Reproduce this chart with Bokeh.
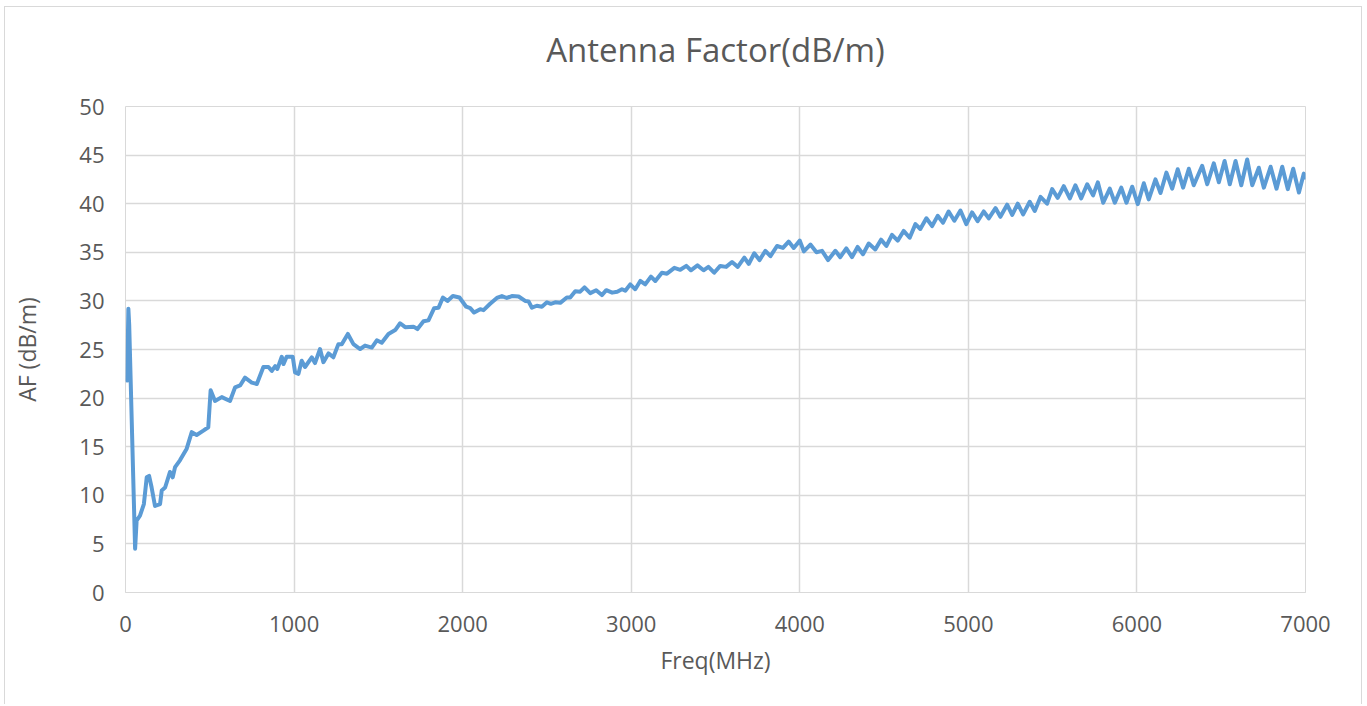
from bokeh.plotting import figure
from bokeh.models import Range1d, FixedTicker, Title
from bokeh.embed import file_html
from bokeh.resources import INLINE

freq_mhz = [10, 17, 22, 57, 66, 86, 109, 126, 140, 155, 175, 205, 215, 235, 264, 280, 294, 323, 363, 393,
            422, 462, 491, 505, 531, 571, 620, 650, 680, 709, 749, 779, 818, 848, 868, 888, 901, 927, 937, 956,
            992, 1006, 1026, 1045, 1065, 1105, 1124, 1154, 1174, 1204, 1233, 1263, 1283, 1319, 1352, 1392,
            1421, 1461, 1491, 1520, 1560, 1600, 1629, 1659, 1708, 1732, 1768, 1797, 1831, 1857, 1883, 1910,
            1942, 1981, 2021, 2045, 2068, 2104, 2124, 2163, 2203, 2233, 2262, 2292, 2332, 2371, 2391, 2411,
            2440, 2470, 2500, 2523, 2549, 2579, 2618, 2638, 2668, 2697, 2723, 2757, 2792, 2826,
            2852, 2887, 2917, 2945, 2965, 2994, 3024, 3054, 3083, 3117, 3143, 3182, 3212, 3256, 3291, 3327,
            3354, 3393, 3429, 3458, 3492, 3528, 3563, 3598, 3632, 3671, 3697, 3730, 3761, 3796, 3826, 3865,
            3900, 3934, 3964, 4000, 4024, 4063, 4099, 4132, 4168, 4211, 4240,
            4276, 4310, 4343, 4375, 4409, 4448, 4482, 4514, 4547, 4581, 4616, 4652, 4686, 4715, 4751, 4785,
            4818, 4850, 4883, 4917, 4953, 4988, 5022, 5055, 5091, 5121, 5161, 5190, 5230, 5260, 5293, 5325,
            5364, 5394, 5428, 5467, 5497, 5530, 5566, 5602, 5635, 5669,
            5705, 5740, 5768, 5800, 5839, 5869, 5907, 5938, 5972, 6005, 6041, 6070, 6110, 6140, 6175, 6209,
            6242, 6274, 6308, 6337, 6387, 6417, 6456, 6486, 6520, 6551, 6585, 6619, 6654, 6684, 6723, 6753,
            6793, 6828, 6862, 6895, 6927, 6961, 6990, 7000]

af_db = [21.8, 29.2, 27.5, 4.5, 7.4, 7.9, 9.1, 11.85, 12.0, 10.8, 8.9, 9.1, 10.5, 10.8, 12.4, 11.85, 12.9, 13.6, 14.8, 16.5,
         16.2, 16.65, 17.0, 20.8, 19.7, 20.1, 19.7, 21.1, 21.3, 22.1, 21.6, 21.45, 23.2, 23.2, 22.8, 23.3, 23.0, 24.25, 23.5, 24.25,
         24.25, 22.65, 22.5, 23.85, 23.2, 24.2, 23.6, 25.05, 23.7, 24.6, 24.2, 25.55, 25.55, 26.6, 25.55, 25.05,
         25.4, 25.2, 25.95, 25.7, 26.6, 27.0, 27.7, 27.3, 27.35, 27.1, 27.9, 28.0, 29.25, 29.3, 30.35, 30.0,
         30.5, 30.35, 29.4, 29.25, 28.8, 29.15, 29.05, 29.7, 30.3, 30.5, 30.3, 30.5, 30.45, 30.0, 29.95, 29.3,
         29.5, 29.4, 29.85, 29.7, 29.85, 29.8, 30.35, 30.35, 31.0, 30.95, 31.4, 30.8, 31.1, 30.6,
         31.1, 30.85, 30.95, 31.2, 31.05, 31.7, 31.2, 32.05, 31.7, 32.5, 32.05, 32.9, 32.8, 33.4, 33.2, 33.6,
         33.15, 33.65, 33.15, 33.5, 32.9, 33.6, 33.5, 34.0, 33.5, 34.45, 33.8, 34.9, 34.2, 35.15, 34.6, 35.65,
         35.45, 36.1, 35.45, 36.2, 35.1, 35.8, 35.0, 35.15, 34.2, 35.15, 34.5,
         35.4, 34.5, 35.55, 34.8, 35.9, 35.3, 36.3, 35.65, 36.8, 36.2, 37.2, 36.5, 37.9, 37.4, 38.5, 37.7,
         38.75, 38.05, 39.2, 38.25, 39.3, 37.9, 39.1, 38.2, 39.2, 38.5, 39.55, 38.65, 39.9, 38.85, 40.0, 38.9,
         40.2, 39.25, 40.7, 40.0, 41.5, 40.6, 41.8, 40.55, 41.9, 40.55,
         42.0, 40.85, 42.2, 40.1, 41.55, 40.1, 41.65, 40.1, 41.75, 39.95, 42.1, 40.45, 42.5, 41.1, 43.2, 41.55,
         43.55, 41.65, 43.6, 41.9, 43.9, 42.0, 44.15, 42.2, 44.4, 42.0, 44.4, 41.9, 44.55, 41.9, 43.7, 41.65,
         43.8, 41.55, 43.8, 41.5, 43.6, 41.15, 43.1, 42.7]

x_ticks = [0, 1000, 2000, 3000, 4000, 5000, 6000, 7000]
y_ticks = [0, 5, 10, 15, 20, 25, 30, 35, 40, 45, 50]

TEXT = "#595959"
GRID = "#D9D9D9"
FONT = "Open Sans"

p = figure(width=1358, height=698, output_backend="svg", toolbar_location=None,
           x_range=Range1d(0, 7000), y_range=Range1d(0, 50),
           title="Antenna Factor(dB/m)",
           min_border_left=120, min_border_right=58, min_border_top=99, min_border_bottom=113)

p.line(freq_mhz, af_db, line_color="#5B9BD5", line_width=4, line_join="round", line_cap="round")

# spacer between the frame and the title
p.add_layout(Title(text=" ", text_font_size="2px", standoff=31), "above")

p.title.align = "center"
p.title.vertical_align = "bottom"
p.title.text_font = FONT
p.title.text_font_size = "33px"
p.title.text_font_style = "normal"
p.title.text_color = TEXT
p.title.standoff = 0

p.outline_line_color = GRID
p.background_fill_color = "white"
p.border_fill_color = "white"

p.xaxis.ticker = FixedTicker(ticks=x_ticks)
p.yaxis.ticker = FixedTicker(ticks=y_ticks)
for ax in (p.xaxis, p.yaxis):
    ax.major_tick_line_color = None
    ax.minor_tick_line_color = None
    ax.major_tick_in = 0
    ax.major_tick_out = 0
    ax.minor_tick_in = 0
    ax.minor_tick_out = 0
    ax.major_label_text_font = FONT
    ax.major_label_text_font_size = "22px"
    ax.major_label_text_color = TEXT
    ax.axis_label_text_font = FONT
    ax.axis_label_text_font_size = "23px"
    ax.axis_label_text_font_style = "normal"
    ax.axis_label_text_color = TEXT

p.xaxis.axis_line_color = GRID
p.yaxis.axis_line_color = None
p.xaxis.major_label_standoff = 23
p.yaxis.major_label_standoff = 21
p.xaxis.axis_label = "Freq(MHz)"
p.yaxis.axis_label = "AF (dB/m)"
p.xaxis.axis_label_standoff = 9
p.yaxis.axis_label_standoff = 33

p.xgrid.ticker = FixedTicker(ticks=x_ticks)
p.ygrid.ticker = FixedTicker(ticks=y_ticks)
p.grid.grid_line_color = GRID
p.grid.grid_line_width = 1.5

p.styles = {"border-left": "1px solid #D9D9D9", "border-top": "1px solid #D9D9D9",
            "border-right": "1px solid #D9D9D9", "margin-left": "4px", "margin-top": "6px"}

open("out.html", "w").write(file_html(p, INLINE))
